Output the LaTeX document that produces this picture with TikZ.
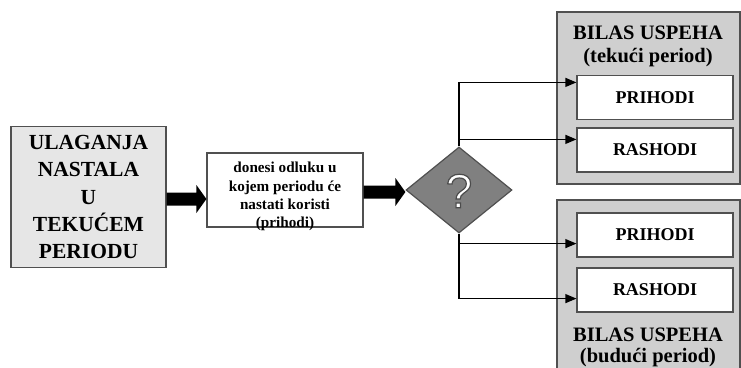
\documentclass[tikz,border=0pt]{standalone}
\usepackage{fontspec}
\setmainfont{Liberation Serif}
\newfontfamily\qfont{Liberation Sans}
\usetikzlibrary{shapes.geometric,arrows.meta,calc}
\definecolor{bordergray}{HTML}{505050}
\definecolor{lightfill}{HTML}{E6E6E6}
\definecolor{panelfill}{HTML}{CFCFCF}
\definecolor{diafill}{HTML}{808080}
\tikzset{
  box/.style={draw=bordergray, line width=1.2pt, rectangle, inner sep=0pt, align=center},
  itembox/.style={box, fill=white, minimum width=156pt, minimum height=44pt, font=\bfseries\fontsize{18}{22}\selectfont},
  title/.style={font=\bfseries\fontsize{20.5}{25}\selectfont, inner sep=0pt},
  conn/.style={line width=1.2pt, black},
  connarrow/.style={conn, -{Triangle[length=11pt,width=9pt]}},
  fatarrow/.style={fill=black},
}
\begin{document}
\begin{tikzpicture}[x=1pt,y=-1pt]
\useasboundingbox (0,0) rectangle (741,367);
% left box
\node[box, fill=lightfill, minimum width=155pt, minimum height=141pt,
      font=\bfseries\fontsize{21.5}{27.2}\selectfont] (left) at (88.5,197)
  {ULAGANJA\\NASTALA\\U\\TEKUĆEM\\PERIODU};
% middle box
\node[box, fill=white, minimum width=156pt, minimum height=74pt] (mid) at (285,190) {};
\node[font=\bfseries\fontsize{15.2}{18.3}\selectfont, align=center, inner sep=0pt] (midtext) at (285,196.5)
  {donesi odluku u\\kojem periodu će\\nastati koristi\\(prihodi)};
% diamond
\node[diamond, draw=bordergray, line width=1.2pt, fill=diafill, minimum width=106pt, minimum height=86pt, inner sep=0pt] (dia) at (459,190) {};
% right panels
\node[box, fill=panelfill, minimum width=183pt, minimum height=172pt] (top) at (648.5,98) {};
\node[box, fill=panelfill, minimum width=183pt, minimum height=180pt] (bot) at (648.5,290) {};
\node[title] (t1) at (648,33) {BILAS USPEHA};
\node[title] (t2) at (648,58) {(tekući period)};
\node[title] (b1) at (648,335) {BILAS USPEHA};
\node[title] (b2) at (648,358) {(budući period)};
\node[itembox] (p1) at (655,97.5) {PRIHODI};
\node[itembox] (r1) at (655,150) {RASHODI};
\node[itembox] (p2) at (655,235) {PRIHODI};
\node[itembox] (r2) at (655,290) {RASHODI};
% fat arrows
\coordinate (s1) at ($(left.east)+(0,2)$);
\coordinate (e1) at (mid.west |- s1);
\fill[fatarrow] ($(s1)+(0,-6.5)$) -- ($(e1)+(-10,-6.5)$) -- ($(e1)+(-10,-14)$) -- (e1)
  -- ($(e1)+(-10,14)$) -- ($(e1)+(-10,6.5)$) -- ($(s1)+(0,6.5)$) -- cycle;
\coordinate (s2) at ($(mid.east)+(0,2)$);
\coordinate (e2) at ($(dia.west)+(0,2)$);
\fill[fatarrow] ($(s2)+(0,-6.5)$) -- ($(e2)+(-10,-6.5)$) -- ($(e2)+(-10,-14)$) -- (e2)
  -- ($(e2)+(-10,14)$) -- ($(e2)+(-10,6.5)$) -- ($(s2)+(0,6.5)$) -- cycle;
% connectors top
\coordinate (ct1) at ($(dia.north)+(0,-64)$);
\coordinate (ct2) at ($(dia.north)+(0,-7)$);
\draw[conn] (dia.north) -- (ct1);
\draw[connarrow] (ct1) -- (p1.west |- ct1);
\draw[connarrow] (ct2) -- (r1.west |- ct2);
% connectors bottom
\coordinate (cb1) at ($(dia.south)+(0,10)$);
\coordinate (cb2) at ($(dia.south)+(0,65)$);
\draw[conn] (dia.south) -- (cb2);
\draw[connarrow] (cb1) -- (p2.west |- cb1);
\draw[connarrow] (cb2) -- (r2.west |- cb2);
% question mark (outlined white)
\node[text=white, font=\qfont\fontsize{48}{48}\selectfont, inner sep=0pt] (qm) at (459,191)
  {\special{pdf:literal direct 0.3 0.3 0.3 RG 1.2 w 2 Tr}?\special{pdf:literal direct 0 Tr 0 0 0 RG}};
\end{tikzpicture}
\end{document}
